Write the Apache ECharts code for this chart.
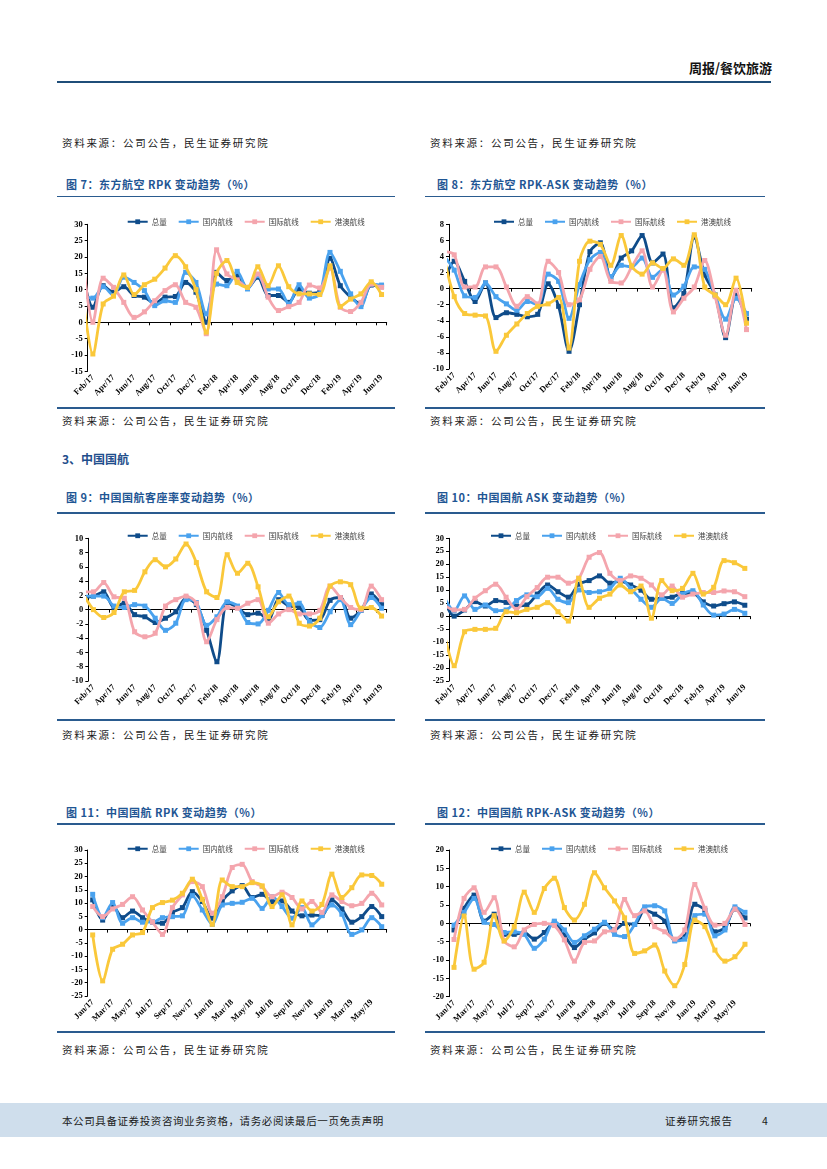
<!DOCTYPE html>
<html lang="zh-CN">
<head>
<meta charset="utf-8">
<title>周报/餐饮旅游</title>
<script src="https://cdn.jsdelivr.net/npm/echarts@6.0.0/dist/echarts.min.js"></script>
<style>
html,body{margin:0;padding:0;background:#fff;}
#page{position:relative;width:827px;height:1169px;overflow:hidden;background:#fff;font-family:"Noto Sans CJK SC","Noto Sans",sans-serif;}
.t{position:absolute;white-space:nowrap;line-height:1;}
.src{font-size:10.5px;letter-spacing:1.7px;color:#1a1a1a;}
.ttl{font-size:11px;font-weight:bold;color:#1f5694;letter-spacing:0.5px;}
.hl{position:absolute;height:1.5px;background:#2a5b8f;}
.ch{position:absolute;}
</style>
</head>
<body>
<div id="page">
  <div class="t" style="right:55px;top:61px;font-size:13px;font-weight:bold;color:#111;">周报/餐饮旅游</div>
  <div class="hl" style="left:57px;top:81px;width:714px;height:2px;background:#1f4e79;"></div>

  <div class="t src" style="left:62px;top:138px;">资料来源：公司公告，民生证券研究院</div>
  <div class="t src" style="left:430px;top:138px;">资料来源：公司公告，民生证券研究院</div>

  <div class="t ttl" style="left:66px;top:178.5px;">图 7：东方航空 RPK 变动趋势（%）</div>
  <div class="t ttl" style="left:437px;top:178.5px;">图 8：东方航空 RPK-ASK 变动趋势（%）</div>
  <div class="hl" style="left:57px;top:195.5px;width:338px;"></div>
  <div class="hl" style="left:425px;top:195.5px;width:340px;"></div>
  <div id="c7" class="ch"></div>
  <div id="c8" class="ch"></div>
  <div class="hl" style="left:57px;top:407px;width:338px;"></div>
  <div class="hl" style="left:425px;top:407px;width:340px;"></div>
  <div class="t src" style="left:62px;top:416px;">资料来源：公司公告，民生证券研究院</div>
  <div class="t src" style="left:430px;top:416px;">资料来源：公司公告，民生证券研究院</div>

  <div class="t" style="left:62px;top:453px;font-size:12px;font-weight:bold;color:#1f4e8c;">3、中国国航</div>

  <div class="t ttl" style="left:66px;top:491.5px;">图 9：中国国航客座率变动趋势（%）</div>
  <div class="t ttl" style="left:437px;top:491.5px;">图 10：中国国航 ASK 变动趋势（%）</div>
  <div class="hl" style="left:57px;top:512px;width:338px;"></div>
  <div class="hl" style="left:425px;top:512px;width:340px;"></div>
  <div id="c9" class="ch"></div>
  <div id="c10" class="ch"></div>
  <div class="hl" style="left:57px;top:719px;width:338px;"></div>
  <div class="hl" style="left:425px;top:719px;width:340px;"></div>
  <div class="t src" style="left:62px;top:730px;">资料来源：公司公告，民生证券研究院</div>
  <div class="t src" style="left:430px;top:730px;">资料来源：公司公告，民生证券研究院</div>

  <div class="t ttl" style="left:66px;top:806.5px;">图 11：中国国航 RPK 变动趋势（%）</div>
  <div class="t ttl" style="left:437px;top:806.5px;">图 12：中国国航 RPK-ASK 变动趋势（%）</div>
  <div class="hl" style="left:57px;top:823px;width:338px;"></div>
  <div class="hl" style="left:425px;top:823px;width:340px;"></div>
  <div id="c11" class="ch"></div>
  <div id="c12" class="ch"></div>
  <div class="hl" style="left:57px;top:1031px;width:338px;"></div>
  <div class="hl" style="left:425px;top:1031px;width:340px;"></div>
  <div class="t src" style="left:62px;top:1045px;">资料来源：公司公告，民生证券研究院</div>
  <div class="t src" style="left:430px;top:1045px;">资料来源：公司公告，民生证券研究院</div>

  <div style="position:absolute;left:0;top:1103px;width:827px;height:34px;background:#cfdeec;"></div>
  <div class="t src" style="left:62px;top:1115.5px;letter-spacing:0.6px;">本公司具备证券投资咨询业务资格，请务必阅读最后一页免责声明</div>
  <div class="t src" style="left:665px;top:1115.5px;letter-spacing:0.8px;">证券研究报告</div>
  <div class="t src" style="left:762px;top:1115.5px;">4</div>
</div>

<script>
// ---------- data ----------
const months = ['Jan/17','Feb/17','Mar/17','Apr/17','May/17','Jun/17','Jul/17','Aug/17','Sep/17','Oct/17','Nov/17','Dec/17',
  'Jan/18','Feb/18','Mar/18','Apr/18','May/18','Jun/18','Jul/18','Aug/18','Sep/18','Oct/18','Nov/18','Dec/18',
  'Jan/19','Feb/19','Mar/19','Apr/19','May/19','Jun/19'];
const seriesNames = ['总量','国内航线','国际航线','港澳航线'];

// 图7 东方航空 RPK (Jan/17 lies just left of the visible axis)
const c7Total    = [14.8, 4.6, 11.2, 9.2, 10.9, 8.2, 7.7, 5.8, 7.7, 7.9, 12.2, 9.2, 0.0, 15.3, 12.8, 14.3, 10.5, 13.8, 8.2, 8.2, 6.1, 10.2, 8.9, 9.2, 19.6, 11.2, 7.7, 5.6, 11.4, 10.9];
const c7Domestic = [8.0, 7.4, 10.9, 8.2, 13.8, 12.2, 9.7, 5.1, 6.6, 6.1, 15.3, 12.2, 2.6, 11.7, 11.2, 15.6, 10.2, 14.3, 10.2, 10.2, 5.6, 11.5, 7.4, 8.7, 21.4, 15.6, 8.7, 4.8, 11.7, 11.4];
const c7Intl     = [20.4, 0.0, 13.5, 10.7, 6.1, 1.5, 3.2, 6.6, 9.7, 11.5, 6.1, 4.6, -3.5, 22.2, 14.8, 13.0, 10.7, 14.8, 7.7, 3.6, 4.8, 6.1, 11.4, 10.5, 16.6, 4.6, 3.3, 6.1, 11.7, 10.7];
const c7HkMo     = [8.7, -9.7, 5.6, 8.0, 14.5, 8.5, 11.5, 13.2, 16.6, 20.4, 17.0, 10.0, -3.0, 15.0, 18.9, 12.2, 10.7, 17.0, 11.2, 17.3, 10.9, 8.7, 8.7, 8.5, 17.3, 4.8, 7.1, 8.7, 12.4, 8.5];

// 图8 东方航空 RPK-ASK
const c8Total    = [0.8, 3.4, 0.9, -1.6, 0.7, -3.6, -3.0, -3.2, -3.5, -3.2, 0.6, -2.2, -7.8, -2.0, 4.6, 5.7, 1.3, 3.8, 4.7, 6.6, 3.2, 4.3, -2.4, -0.6, 6.4, 1.7, -0.8, -6.1, -0.8, -3.8];
const c8Domestic = [4.1, 2.3, -0.9, -1.1, 0.7, -1.0, -1.9, -2.7, -1.6, -2.0, 1.8, 0.9, -3.7, 0.5, 3.6, 4.5, 1.5, 2.9, 2.7, 3.8, 1.4, 2.4, -0.8, 0.3, 2.7, 2.4, -0.8, -3.8, -1.2, -3.1];
const c8Intl     = [4.6, 4.2, 0.2, 0.2, 2.7, 2.7, 0.2, -2.2, -1.0, -1.9, 3.4, 2.0, -2.0, -1.4, 2.4, 4.0, 0.9, 0.7, 2.7, 4.7, 0.2, 2.3, -2.9, -1.2, 0.2, 3.5, -1.0, -5.8, -0.2, -5.1];
const c8HkMo     = [4.0, -1.0, -3.1, -3.3, -3.4, -7.8, -5.8, -4.4, -3.1, -2.2, -1.9, -1.1, -7.4, 3.4, 5.9, 5.5, 2.9, 6.6, 2.8, 1.8, 3.2, 2.5, 3.7, 2.9, 6.7, 0.2, -0.8, -2.0, 1.3, -4.3];

// 图9 中国国航客座率变动
const c9Total    = [1.7, 1.9, 2.5, 0.3, 0.9, -0.7, -1.0, -1.8, -1.2, -0.3, 1.6, 0.7, -2.9, -7.3, 1.0, 0.3, -0.7, -0.5, -1.4, 1.4, 0.5, 0.3, -1.5, -1.4, 1.3, 1.7, -1.2, -0.1, 2.2, 0.7];
const c9Domestic = [1.9, 1.9, 1.9, 0.5, 0.3, 0.7, 0.5, -1.2, -2.9, -1.9, 1.4, 1.0, -2.2, -1.0, 1.1, 0.5, -1.8, -2.0, -0.1, 2.4, 0.7, 0.9, -1.7, -2.5, -0.3, 1.4, -2.1, -0.1, 1.7, 0.2];
const c9Intl     = [2.5, 2.5, 3.8, 1.8, 1.6, -3.1, -3.8, -3.3, 0.5, 1.4, 1.9, 0.9, -4.5, -1.4, 0.3, 0.2, 0.9, 1.4, -1.9, -0.6, 0.0, -0.6, -0.6, -0.1, 3.3, 1.7, 0.3, 0.0, 3.3, 1.4];
const c9HkMo     = [2.2, 0.0, -1.1, -0.4, 2.5, 2.7, 5.3, 7.0, 6.0, 7.1, 9.2, 6.6, 2.5, 1.7, 7.7, 5.1, 6.5, 3.2, -1.0, 1.1, 1.9, -1.9, -2.3, -1.2, 3.3, 3.9, 3.5, 0.2, 0.3, -0.9];

// 图10 中国国航 ASK
const c10Total    = [6.8, 0.0, 2.4, 5.6, 3.9, 6.0, 5.3, 3.9, 4.3, 8.5, 12.0, 9.4, 7.3, 12.3, 13.7, 15.5, 12.7, 13.5, 12.0, 10.0, 6.5, 7.0, 7.3, 8.8, 8.8, 5.5, 3.9, 4.8, 5.5, 4.2];
const c10Domestic = [7.7, 2.1, 7.8, 2.6, 4.3, 2.1, 2.4, 6.0, 8.2, 7.5, 10.7, 6.5, 5.2, 10.1, 9.1, 9.4, 10.7, 14.6, 10.7, 6.5, 3.4, 6.9, 4.9, 8.5, 9.8, 4.3, 0.4, 0.8, 2.6, 1.1];
const c10Intl     = [4.4, 2.4, 2.6, 6.9, 9.8, 12.3, 7.3, 2.6, 7.5, 11.0, 15.0, 15.0, 12.7, 14.6, 22.7, 24.5, 16.5, 13.7, 15.5, 14.6, 12.0, 8.2, 11.6, 7.3, 8.5, 9.1, 9.1, 9.7, 9.4, 7.5];
const c10HkMo     = [-5.9, -19.1, -6.0, -5.1, -5.1, -4.7, 1.7, 1.3, 2.6, 3.4, 5.2, 1.7, -1.9, 14.6, 3.4, 6.9, 8.5, 12.0, 9.4, 11.6, -0.8, 13.7, 9.8, 10.7, 16.5, 8.5, 11.1, 21.4, 20.6, 18.4];

// 图11 中国国航 RPK
const c11Total    = [11.2, 3.6, 9.0, 4.5, 7.0, 4.5, 2.8, 2.4, 6.5, 8.3, 14.3, 10.6, 4.3, 10.8, 14.6, 16.6, 12.1, 13.3, 10.6, 10.8, 7.0, 5.2, 5.5, 5.3, 11.2, 7.8, 2.8, 4.9, 8.7, 4.9];
const c11Domestic = [13.3, 4.5, 10.2, 2.4, 4.5, 2.8, 2.8, 4.5, 4.9, 5.2, 12.8, 7.4, 2.0, 9.3, 9.9, 10.3, 11.8, 8.0, 12.4, 8.7, 4.3, 8.3, 1.8, 5.3, 9.3, 5.8, -1.8, -0.1, 4.5, 1.1];
const c11Intl     = [8.7, 4.9, 7.8, 9.5, 12.4, 7.4, 2.8, -1.8, 8.3, 13.1, 18.1, 16.2, 6.2, 12.4, 23.4, 24.6, 18.1, 16.2, 12.4, 14.1, 12.1, 7.8, 10.6, 6.5, 13.1, 10.6, 9.0, 9.9, 13.7, 9.3];
const c11HkMo     = [-2.0, -19.3, -7.4, -5.5, -2.0, -1.1, 8.3, 10.2, 11.1, 13.7, 19.0, 11.4, 2.0, 18.7, 16.2, 16.2, 17.7, 16.5, 8.7, 13.1, 1.8, 10.8, 7.0, 9.5, 20.9, 12.1, 15.8, 20.6, 20.4, 17.1];

// 图12 中国国航 RPK-ASK
const c12Total    = [-1.8, 4.1, 7.7, 0.6, 2.5, -3.0, -3.0, -2.5, -4.3, -2.5, 0.3, -3.2, -6.6, -4.3, -2.6, 0.0, -1.8, 0.0, -0.3, 3.6, 2.5, 0.6, -4.5, -3.6, 5.2, 3.6, -2.3, -1.2, 3.9, 1.5];
const c12Domestic = [-0.5, 3.0, 6.8, 0.3, -0.3, -2.5, -2.3, -3.0, -6.8, -4.3, 0.6, -1.8, -5.2, -3.4, -1.6, 0.3, -3.0, -3.6, -0.3, 4.5, 4.8, 3.4, -4.8, -4.3, 2.1, 2.5, -3.4, -1.8, 4.5, 3.0];
const c12Intl     = [-4.4, 6.8, 9.7, 3.0, 7.0, -4.8, -6.4, -1.8, -0.3, 0.0, -0.6, -4.5, -10.3, -5.2, -4.8, -2.3, -1.8, 6.5, 2.1, 3.4, -0.9, -2.3, -4.3, -1.8, 10.6, 4.1, -0.5, 0.0, 3.9, -0.3];
const c12HkMo     = [-12.0, 2.0, -12.5, -10.6, 2.1, -4.8, -0.9, 8.5, 3.0, 9.5, 12.3, 4.3, 0.9, 5.2, 13.8, 9.7, 6.1, 1.5, -8.2, -7.5, -5.9, -13.0, -17.0, -11.2, 0.9, -0.9, -7.3, -10.3, -9.1, -5.7];

// ---------- styles & layout ----------
const lineColors = ['#0f4c8a', '#4aa2ee', '#f4a5ad', '#fac83a'];

const charts = [
  {id:'c7',  box:{left:55, top:205, width:345, height:203}, plot:{x0:87.7, x1:386.7, y0:224.3, y1:371.3}, y:[-15,30,5], legend:{x:126.7, y:221}, start:1,
   data:[c7Total, c7Domestic, c7Intl, c7HkMo]},
  {id:'c8',  box:{left:420, top:205, width:350, height:203}, plot:{x0:449, x1:751.7, y0:224.3, y1:369}, y:[-10,8,2], legend:{x:493, y:221}, start:1,
   data:[c8Total, c8Domestic, c8Intl, c8HkMo]},
  {id:'c9',  box:{left:55, top:520, width:345, height:199}, plot:{x0:88.3, x1:386.7, y0:538.3, y1:681}, y:[-10,10,2], legend:{x:126.7, y:535}, start:1,
   data:[c9Total, c9Domestic, c9Intl, c9HkMo]},
  {id:'c10', box:{left:420, top:520, width:350, height:199}, plot:{x0:449, x1:750, y0:538.3, y1:681}, y:[-25,30,5], legend:{x:490, y:535}, start:1,
   data:[c10Total, c10Domestic, c10Intl, c10HkMo]},
  {id:'c11', box:{left:55, top:833, width:345, height:198}, plot:{x0:87.7, x1:386.7, y0:850, y1:996}, y:[-25,30,5], legend:{x:126.7, y:848}, start:0,
   data:[c11Total, c11Domestic, c11Intl, c11HkMo]},
  {id:'c12', box:{left:420, top:833, width:350, height:198}, plot:{x0:449, x1:750, y0:850, y1:996.7}, y:[-20,20,5], legend:{x:490, y:848}, start:0,
   data:[c12Total, c12Domestic, c12Intl, c12HkMo]}
];

const serif = '"Liberation Serif","Times New Roman",serif';

charts.forEach(function (cfg) {
  const el = document.getElementById(cfg.id);
  const b = cfg.box, p = cfg.plot;
  el.style.left = b.left + 'px';
  el.style.top = b.top + 'px';
  el.style.width = b.width + 'px';
  el.style.height = b.height + 'px';
  const chart = echarts.init(el, null, {renderer: 'canvas'});
  const shown = function (idx) { return idx >= cfg.start && (idx - cfg.start) % 2 === 0; };
  const xMin = cfg.start > 0 ? cfg.start : null;
  const baseX = {
    type: 'category', data: months, boundaryGap: true,
    min: xMin === null ? undefined : xMin
  };
  chart.setOption({
    animation: false,
    grid: {left: p.x0 - b.left, top: p.y0 - b.top, width: p.x1 - p.x0, height: p.y1 - p.y0,
           containLabel: false, outerBoundsMode: 'none'},
    legend: {
      data: seriesNames, left: cfg.legend.x - b.left, top: cfg.legend.y - b.top - 3,
      itemWidth: 20, itemHeight: 6, itemGap: 11, padding: 0,
      textStyle: {fontSize: 7.5, color: '#444', fontFamily: '"Noto Sans CJK SC",sans-serif', padding: [0, 0, 0, -1]}
    },
    xAxis: [
      Object.assign({}, baseX, {
        position: 'bottom',
        axisLine: {show: false, onZero: false},
        axisTick: {show: false},
        axisLabel: {show: true, interval: shown, rotate: 45, margin: 5,
          fontSize: 8.5, fontWeight: 'bold', color: '#000', fontFamily: serif},
        splitLine: {show: false}
      }),
      Object.assign({}, baseX, {
        position: 'top',
        axisLine: {show: true, onZero: true, lineStyle: {color: '#000', width: 1}},
        axisTick: {show: true, inside: true, length: 3, interval: shown, lineStyle: {color: '#000', width: 1}},
        axisLabel: {show: false},
        splitLine: {show: false}
      })
    ],
    yAxis: {
      type: 'value', min: cfg.y[0], max: cfg.y[1], interval: cfg.y[2],
      axisLine: {show: true, onZero: false, lineStyle: {color: '#000', width: 1}},
      axisTick: {show: true, length: 3, lineStyle: {color: '#000'}},
      axisLabel: {margin: 5, fontSize: 8.5, fontWeight: 'bold', color: '#000', fontFamily: serif},
      splitLine: {show: false}
    },
    series: seriesNames.map(function (name, k) {
      return {
        name: name, type: 'line', xAxisIndex: 0, yAxisIndex: 0,
        data: cfg.data[k], smooth: 0.3, clip: true,
        symbol: 'rect', symbolSize: 5, showSymbol: true,
        lineStyle: {color: lineColors[k], width: 2.8},
        itemStyle: {color: lineColors[k], borderWidth: 0},
        emphasis: {disabled: true}, z: 2 + k
      };
    })
  });
});
</script>
</body>
</html>
